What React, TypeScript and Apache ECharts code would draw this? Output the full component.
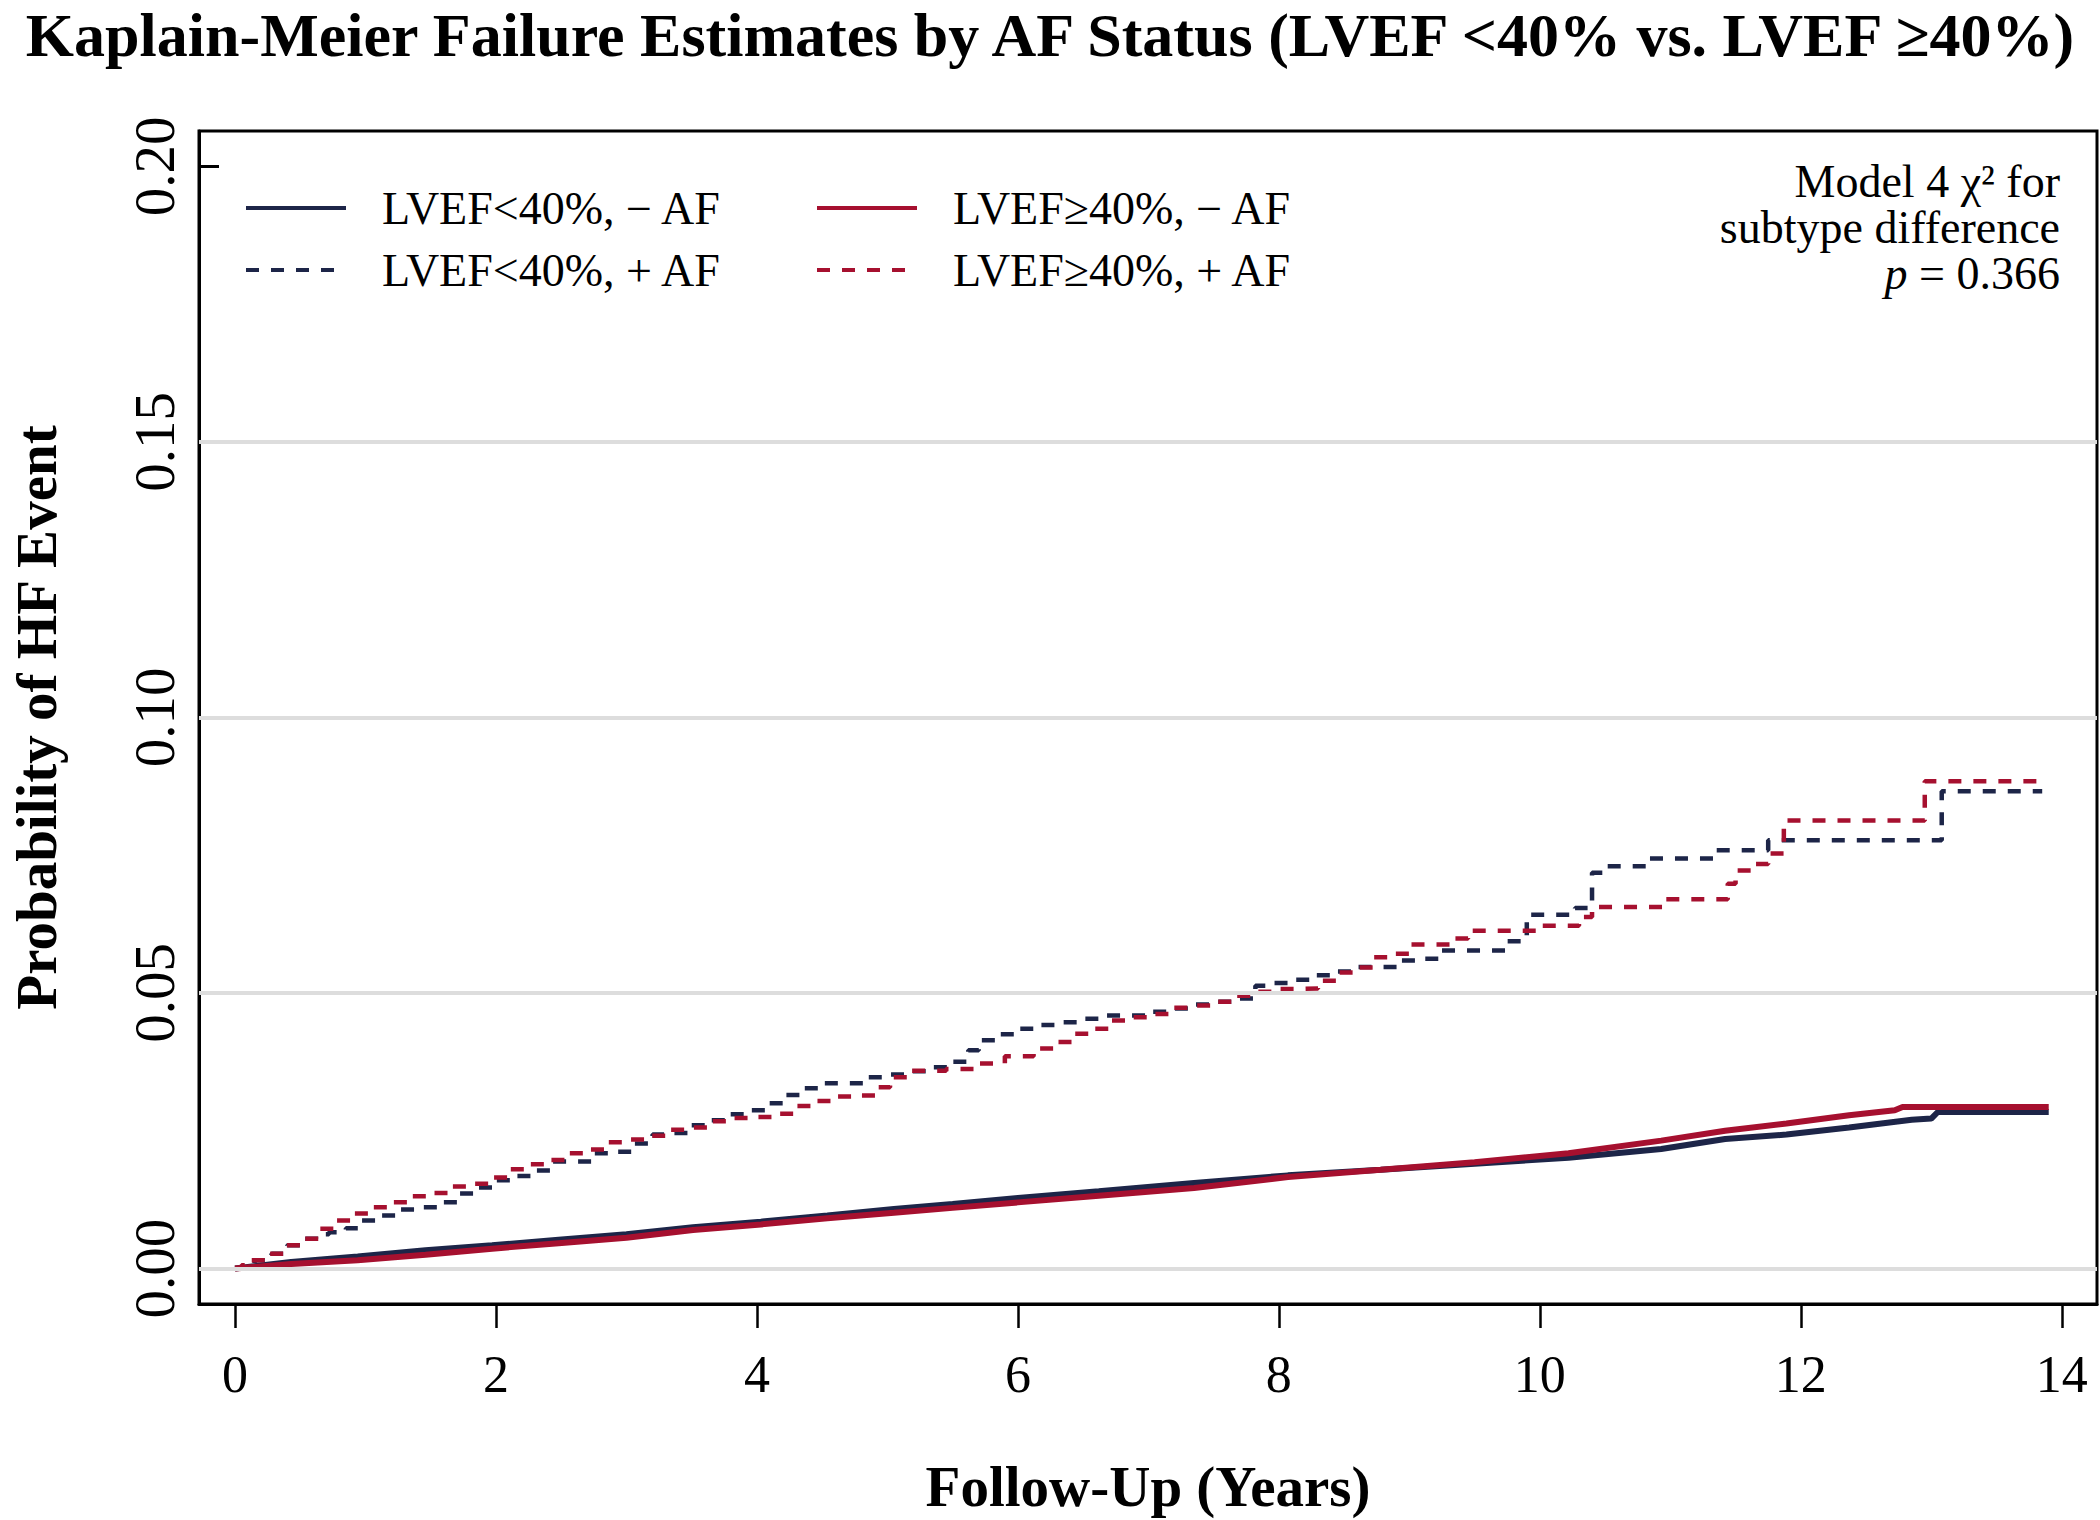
import React, { useEffect, useRef } from "react";
import * as echarts from "echarts";

const FONT = '"Liberation Serif", "Times New Roman", Times, serif';
const NAVY = "#1d2548";
const RED = "#a6102f";

const titleText = "Kaplain-Meier Failure Estimates by AF Status (LVEF <40% vs. LVEF \u226540%)";
const xAxisTitle = "Follow-Up (Years)";
const yAxisTitle = "Probability of HF Event";

const xTicks = [0, 2, 4, 6, 8, 10, 12, 14];
const yTicks = [0, 0.05, 0.1, 0.15, 0.2];
const gridValues = [0, 0.05, 0.1, 0.15];

const seriesNames = [
  "LVEF<40%, \u2212 AF",
  "LVEF<40%, + AF",
  "LVEF\u226540%, \u2212 AF",
  "LVEF\u226540%, + AF",
];

// LVEF<40%, no AF (solid navy)
const lowNoAf: [number, number][] = [
  [0, 0], [0.43, 0.0012], [0.94, 0.0022], [1.46, 0.0033], [1.97, 0.0042], [2.48, 0.0052],
  [3.0, 0.0062], [3.51, 0.0075], [4.03, 0.0085], [4.54, 0.0096], [5.05, 0.0108], [5.5, 0.0117],
  [6.0, 0.0128], [6.62, 0.014], [7.35, 0.0155], [8.07, 0.0169], [8.78, 0.0179], [9.5, 0.019],
  [10.22, 0.0201], [10.93, 0.0217], [11.42, 0.0235], [11.89, 0.0243], [12.37, 0.0256],
  [12.85, 0.027], [13.0, 0.0272], [13.05, 0.0284], [13.9, 0.0284],
];

// LVEF<40%, with AF (dashed navy)
const lowAf: [number, number][] = [
  [0, 0], [0.08, 0.0008], [0.15, 0.0015], [0.28, 0.0027], [0.4, 0.0042], [0.5, 0.0054],
  [0.62, 0.0062], [0.72, 0.0066], [0.85, 0.0073], [0.97, 0.0087], [1.08, 0.0096], [1.25, 0.0107],
  [1.4, 0.0111], [1.58, 0.012], [1.72, 0.0136], [1.85, 0.0147], [1.97, 0.016], [2.15, 0.0168],
  [2.28, 0.0178], [2.42, 0.0194], [2.75, 0.0209], [2.9, 0.0212], [3.05, 0.0227], [3.2, 0.0243],
  [3.35, 0.0246], [3.5, 0.026], [3.65, 0.0269], [3.78, 0.028], [3.93, 0.0287], [4.07, 0.03],
  [4.22, 0.0315], [4.35, 0.0327], [4.5, 0.0336], [4.85, 0.0347], [5.0, 0.0352], [5.15, 0.0358],
  [5.35, 0.0365], [5.5, 0.0375], [5.62, 0.0396], [5.7, 0.0414], [5.85, 0.0425], [6.0, 0.0435],
  [6.15, 0.0442], [6.32, 0.0447], [6.5, 0.0453], [6.65, 0.0459], [7.0, 0.0466], [7.17, 0.0472],
  [7.33, 0.0479], [7.5, 0.0484], [7.65, 0.049], [7.82, 0.0513], [7.95, 0.0518], [8.1, 0.0524],
  [8.27, 0.0532], [8.42, 0.0539], [8.6, 0.0547], [8.93, 0.0559], [9.05, 0.0562], [9.25, 0.0577],
  [9.75, 0.0594], [9.9, 0.0642], [10.27, 0.0654], [10.4, 0.0718], [10.48, 0.073], [10.82, 0.0744],
  [11.33, 0.0759], [11.75, 0.0777], [13.08, 0.0866], [13.85, 0.0866],
];

// LVEF>=40%, no AF (solid red)
const highNoAf: [number, number][] = [
  [0, 0], [0.43, 0.0008], [0.94, 0.0015], [1.46, 0.0025], [1.97, 0.0036], [2.48, 0.0046],
  [3.0, 0.0056], [3.51, 0.007], [4.03, 0.008], [4.54, 0.0091], [5.05, 0.0101], [5.5, 0.011],
  [6.0, 0.012], [6.62, 0.0132], [7.35, 0.0146], [8.07, 0.0166], [8.78, 0.0179], [9.5, 0.0193],
  [10.22, 0.0209], [10.93, 0.0232], [11.42, 0.025], [11.89, 0.0263], [12.37, 0.0278],
  [12.72, 0.0287], [12.78, 0.0293], [13.9, 0.0293],
];

// LVEF>=40%, with AF (dashed red)
const highAf: [number, number][] = [
  [0, 0], [0.05, 0.0006], [0.12, 0.0015], [0.25, 0.0027], [0.38, 0.0042], [0.52, 0.0054],
  [0.65, 0.0072], [0.77, 0.0087], [0.9, 0.01], [1.03, 0.0111], [1.18, 0.012], [1.33, 0.0131],
  [1.5, 0.0137], [1.65, 0.0149], [1.8, 0.0154], [1.95, 0.0165], [2.1, 0.018], [2.25, 0.0189],
  [2.4, 0.0197], [2.55, 0.0209], [2.7, 0.0216], [2.85, 0.0229], [3.0, 0.0234], [3.15, 0.0241],
  [3.3, 0.0252], [3.47, 0.0256], [3.62, 0.0267], [3.8, 0.0273], [3.97, 0.0275], [4.15, 0.0281],
  [4.3, 0.0295], [4.45, 0.0304], [4.6, 0.0312], [4.75, 0.0314], [4.92, 0.0329], [5.02, 0.0347],
  [5.15, 0.0359], [5.45, 0.0362], [5.7, 0.0372], [5.9, 0.0385], [6.12, 0.0399], [6.28, 0.0411],
  [6.42, 0.0426], [6.55, 0.0435], [6.7, 0.045], [6.85, 0.0456], [7.0, 0.0462], [7.17, 0.0473],
  [7.33, 0.0477], [7.5, 0.0484], [7.65, 0.0495], [7.8, 0.0502], [7.95, 0.0507], [8.12, 0.0508],
  [8.3, 0.0522], [8.45, 0.0537], [8.6, 0.0546], [8.72, 0.0565], [8.85, 0.0571], [9.0, 0.0588],
  [9.32, 0.0599], [9.45, 0.0613], [9.98, 0.0622], [10.3, 0.0638], [10.4, 0.0656], [10.96, 0.067],
  [11.44, 0.0698], [11.5, 0.0722], [11.62, 0.0734], [11.75, 0.0753], [11.87, 0.0813],
  [12.95, 0.0884], [13.85, 0.0884],
];

const DASH = [13, 12];

export default function App() {
  const ref = useRef<HTMLDivElement>(null);

  useEffect(() => {
    document.body.style.margin = "0";
    if (!ref.current) return;
    const chart = echarts.init(ref.current, undefined, { renderer: "svg" });

    const legendText = {
      fontFamily: FONT,
      fontSize: 46,
      lineHeight: 46,
      color: "#000",
      padding: [0, 0, 0, 31],
    };
    const legendBase = {
      orient: "vertical",
      top: 185,
      itemWidth: 100,
      itemHeight: 14,
      itemGap: 16,
      padding: 0,
      selectedMode: false,
      textStyle: legendText,
      itemStyle: { opacity: 0 },
    };
    const hiddenSymbol = { opacity: 0, borderWidth: 0, color: "rgba(0,0,0,0)", borderColor: "rgba(0,0,0,0)" };

    const option: any = {
      animation: false,
      backgroundColor: "#fff",
      title: {
        text: titleText,
        left: "center",
        top: 4,
        padding: 0,
        textStyle: { fontFamily: FONT, fontWeight: "bold", fontSize: 62, color: "#000", lineHeight: 62 },
      },
      legend: [
        {
          ...legendBase,
          left: 244,
          data: [
            { name: seriesNames[0], itemStyle: hiddenSymbol, lineStyle: { width: 4, type: "solid" } },
            { name: seriesNames[1], itemStyle: hiddenSymbol, lineStyle: { width: 4, type: DASH } },
          ],
        },
        {
          ...legendBase,
          left: 815,
          data: [
            { name: seriesNames[2], itemStyle: hiddenSymbol, lineStyle: { width: 4, type: "solid" } },
            { name: seriesNames[3], itemStyle: hiddenSymbol, lineStyle: { width: 4, type: DASH } },
          ],
        },
      ],
      grid: {
        left: 199,
        top: 131,
        width: 1898,
        height: 1173,
        show: true,
        borderColor: "#000",
        borderWidth: 3,
        backgroundColor: "transparent",
      },
      xAxis: {
        type: "value",
        min: -0.276,
        max: 14.27,
        name: xAxisTitle,
        nameLocation: "middle",
        nameGap: 154,
        nameTextStyle: { fontFamily: FONT, fontWeight: "bold", fontSize: 57, color: "#000", lineHeight: 57 },
        axisLine: { show: true, onZero: false, lineStyle: { color: "#000", width: 3 } },
        axisTick: { show: true, inside: false, length: 24, customValues: xTicks, lineStyle: { color: "#000", width: 2.5 } },
        axisLabel: {
          show: true,
          customValues: xTicks,
          margin: 44,
          fontFamily: FONT,
          fontSize: 52,
          lineHeight: 52,
          color: "#000",
        },
        splitLine: { show: false },
      },
      yAxis: {
        type: "value",
        min: -0.00644,
        max: 0.2064,
        name: yAxisTitle,
        nameLocation: "middle",
        nameGap: 134,
        nameRotate: 90,
        nameTextStyle: { fontFamily: FONT, fontWeight: "bold", fontSize: 57, color: "#000", lineHeight: 57 },
        axisLine: { show: true, onZero: false, lineStyle: { color: "#000", width: 3 } },
        axisTick: { show: true, inside: true, length: 20, customValues: yTicks, lineStyle: { color: "#000", width: 3 } },
        axisLabel: {
          show: true,
          customValues: yTicks,
          rotate: 90,
          margin: 16,
          fontFamily: FONT,
          fontSize: 57,
          lineHeight: 57,
          color: "#000",
          formatter: (v: number) => v.toFixed(2),
        },
        splitLine: { show: false },
      },
      graphic: [
        {
          type: "text",
          x: 2060,
          y: 158,
          z: 10,
          style: {
            text: "Model 4 \u03c7\u00b2 for\nsubtype difference\n{i|p} = 0.366",
            align: "right",
            verticalAlign: "top",
            fontFamily: FONT,
            fontSize: 46,
            lineHeight: 46,
            fill: "#000",
            rich: {
              i: { fontFamily: FONT, fontSize: 46, lineHeight: 46, fontStyle: "italic", fill: "#000" },
            },
          },
        },
      ],
      series: [
        {
          type: "line",
          data: [],
          z: 1,
          silent: true,
          markLine: {
            silent: true,
            symbol: ["none", "none"],
            label: { show: false },
            lineStyle: { color: "#dddddd", width: 4, type: "solid" },
            emphasis: { disabled: true },
            data: gridValues.map((v) => ({ yAxis: v })),
          },
        },
        {
          name: seriesNames[0],
          type: "line",
          data: lowNoAf,
          symbol: "none",
          z: 3,
          silent: true,
          lineStyle: { color: NAVY, width: 6 },
          itemStyle: { color: NAVY },
        },
        {
          name: seriesNames[1],
          type: "line",
          step: "end",
          data: lowAf,
          symbol: "none",
          z: 3,
          silent: true,
          lineStyle: { color: NAVY, width: 4.5, type: DASH },
          itemStyle: { color: NAVY },
        },
        {
          name: seriesNames[2],
          type: "line",
          data: highNoAf,
          symbol: "none",
          z: 4,
          silent: true,
          lineStyle: { color: RED, width: 6 },
          itemStyle: { color: RED },
        },
        {
          name: seriesNames[3],
          type: "line",
          step: "end",
          data: highAf,
          symbol: "none",
          z: 4,
          silent: true,
          lineStyle: { color: RED, width: 4.5, type: DASH },
          itemStyle: { color: RED },
        },
      ],
    };

    chart.setOption(option);
    return () => {
      chart.dispose();
    };
  }, []);

  return <div ref={ref} style={{ width: 2100, height: 1520 }} />;
}
